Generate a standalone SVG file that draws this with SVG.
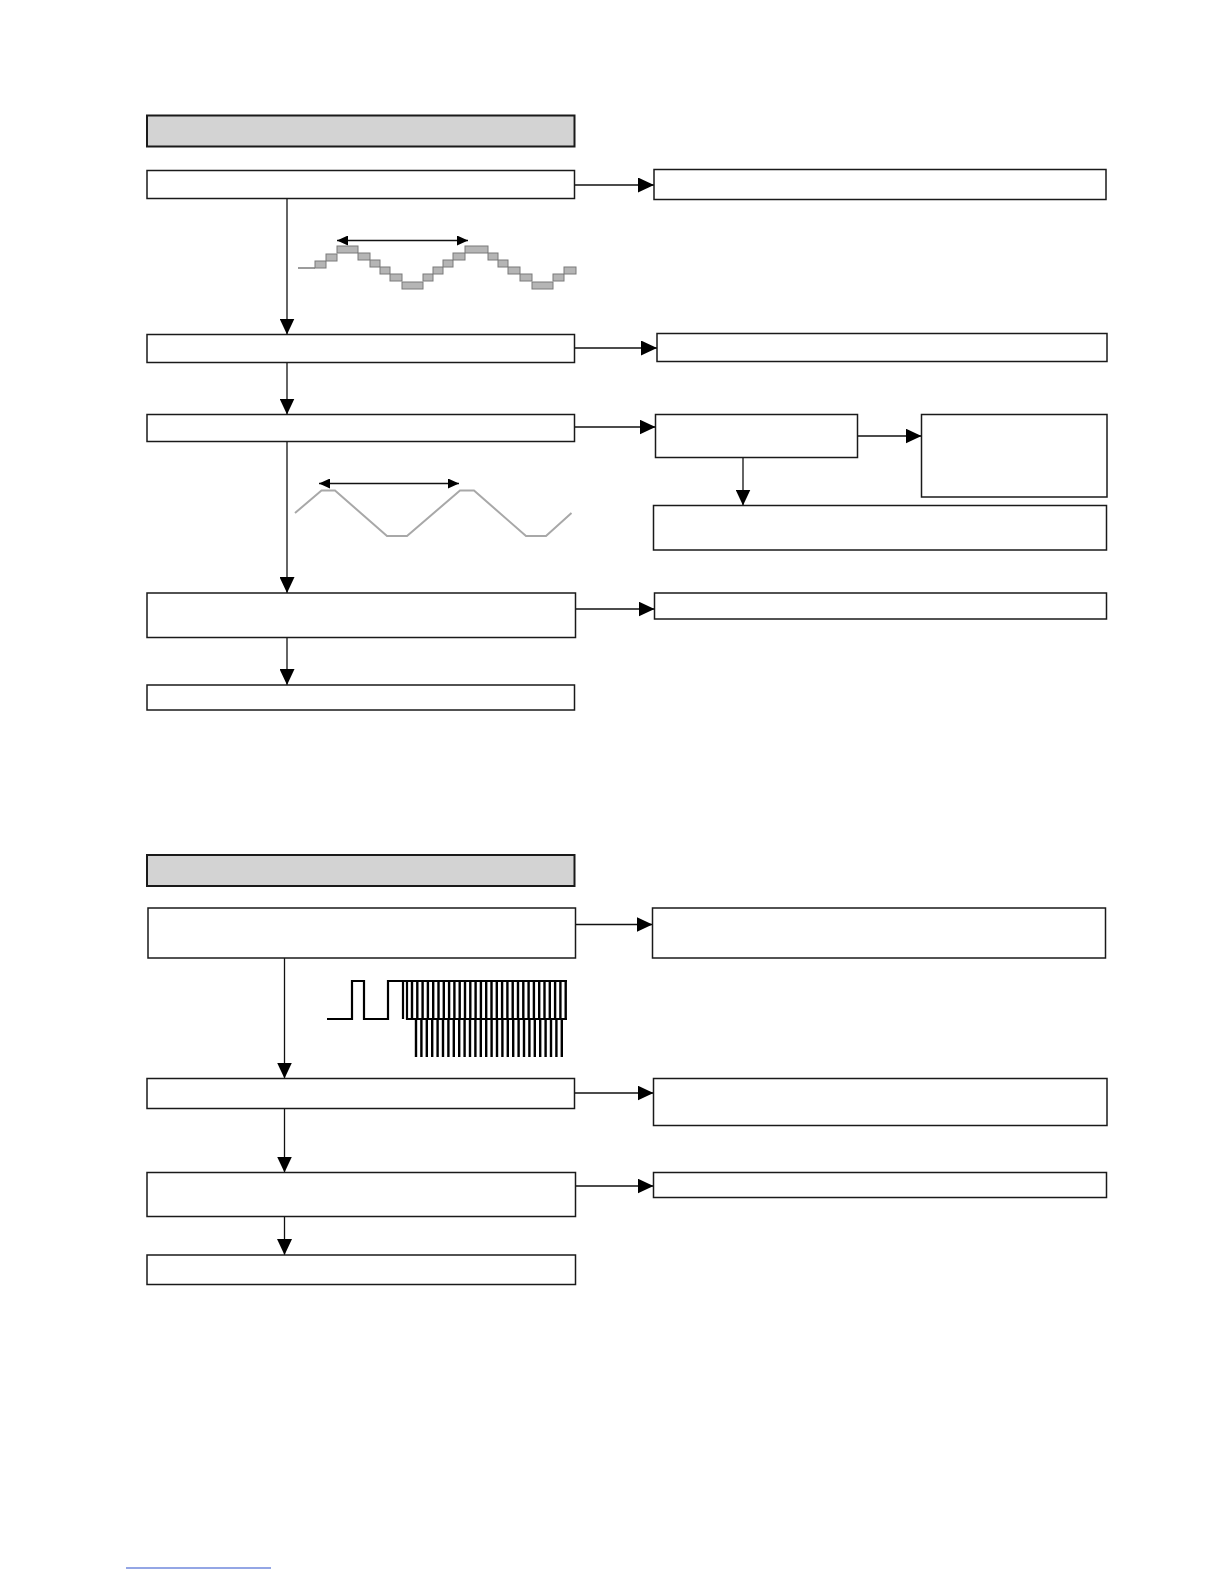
<svg xmlns="http://www.w3.org/2000/svg" width="1224" height="1584" viewBox="0 0 1224 1584">
<style>
.box{fill:#fff;stroke:#1a1a1a;stroke-width:1.5}
.hdr{fill:#d3d3d3;stroke:#1a1a1a;stroke-width:2}
.con{fill:none;stroke:#111;stroke-width:1.3}
.dbl{fill:none;stroke:#111;stroke-width:1.6}
.step{fill:#b5b5b5;stroke:#7a7a7a;stroke-width:1}
.tri{fill:none;stroke:#a8a8a8;stroke-width:2}
.pulse{fill:none;stroke:#000;stroke-width:2.2}
.bars{fill:none;stroke:#000;stroke-width:2.4}
</style>
<defs>
<marker id="ah" markerUnits="userSpaceOnUse" markerWidth="16" markerHeight="15" refX="16" refY="7.5" orient="auto">
<path d="M0,0 L16,7.5 L0,15 z" fill="#000"/>
</marker>
<marker id="sh" markerUnits="userSpaceOnUse" markerWidth="11" markerHeight="10" refX="11" refY="5" orient="auto-start-reverse">
<path d="M0,0 L11,5 L0,10 z" fill="#000"/>
</marker>
</defs>
<rect width="1224" height="1584" fill="#fff"/>

<g id="connectors">
<path class="con" marker-end="url(#ah)" d="M287,198.5 V334.5"/>
<path class="con" marker-end="url(#ah)" d="M574.5,185 H654"/>
<path class="con" marker-end="url(#ah)" d="M574.5,348 H657"/>
<path class="con" marker-end="url(#ah)" d="M287,362.5 V414.5"/>
<path class="con" marker-end="url(#ah)" d="M574.5,427 H655.5"/>
<path class="con" marker-end="url(#ah)" d="M857.5,436 H921.5"/>
<path class="con" marker-end="url(#ah)" d="M743,457.5 V505.5"/>
<path class="con" marker-end="url(#ah)" d="M287,441.5 V593"/>
<path class="con" marker-end="url(#ah)" d="M575.5,609 H654.5"/>
<path class="con" marker-end="url(#ah)" d="M287,637.5 V685"/>
<path class="con" marker-end="url(#ah)" d="M284.5,958 V1078.5"/>
<path class="con" marker-end="url(#ah)" d="M575.5,924.5 H652.5"/>
<path class="con" marker-end="url(#ah)" d="M574.5,1093 H653.5"/>
<path class="con" marker-end="url(#ah)" d="M284.5,1108.5 V1172.5"/>
<path class="con" marker-end="url(#ah)" d="M575.5,1186 H653.5"/>
<path class="con" marker-end="url(#ah)" d="M284.5,1216.5 V1255"/>
</g>

<g id="header1"><rect class="hdr" x="147" y="115.5" width="427.5" height="31"/></g>
<g id="A1"><rect class="box" x="147" y="170.5" width="427.5" height="28"/></g>
<g id="R1"><rect class="box" x="654" y="169.5" width="452" height="30"/></g>
<g id="A2"><rect class="box" x="147" y="334.5" width="427.5" height="28"/></g>
<g id="R2"><rect class="box" x="657" y="333.5" width="450" height="28"/></g>
<g id="A3"><rect class="box" x="147" y="414.5" width="427.5" height="27"/></g>
<g id="B"><rect class="box" x="655.5" y="414.5" width="202" height="43"/></g>
<g id="C"><rect class="box" x="921.5" y="414.5" width="185.5" height="82.5"/></g>
<g id="D"><rect class="box" x="653.5" y="505.5" width="453" height="44.5"/></g>
<g id="A4"><rect class="box" x="147" y="593" width="428.5" height="44.5"/></g>
<g id="E"><rect class="box" x="654.5" y="593" width="452" height="26"/></g>
<g id="A5"><rect class="box" x="147" y="685" width="427.5" height="25"/></g>

<g id="header2"><rect class="hdr" x="147" y="855" width="427.5" height="31"/></g>
<g id="F1"><rect class="box" x="148" y="908" width="427.5" height="50"/></g>
<g id="G1"><rect class="box" x="652.5" y="908" width="453" height="50"/></g>
<g id="F2"><rect class="box" x="147" y="1078.5" width="427.5" height="30"/></g>
<g id="G2"><rect class="box" x="653.5" y="1078.5" width="453.5" height="47"/></g>
<g id="F3"><rect class="box" x="147" y="1172.5" width="428.5" height="44"/></g>
<g id="G3"><rect class="box" x="653.5" y="1172.5" width="453" height="25"/></g>
<g id="F4"><rect class="box" x="147" y="1255" width="428.5" height="29.5"/></g>

<g id="wave-stepped">
<path class="dbl" marker-start="url(#sh)" marker-end="url(#sh)" d="M337,240.5 H468"/>
<path d="M298,268 H315" stroke="#666" stroke-width="1.3" fill="none"/>
<rect class="step" x="315" y="261" width="11" height="7"/>
<rect class="step" x="326" y="254" width="11" height="7"/>
<rect class="step" x="337" y="246" width="21" height="7"/>
<rect class="step" x="358" y="253" width="12" height="7"/>
<rect class="step" x="370" y="260" width="10" height="7"/>
<rect class="step" x="380" y="267" width="10" height="7"/>
<rect class="step" x="390" y="274" width="12" height="7"/>
<rect class="step" x="402" y="282" width="21" height="7"/>
<rect class="step" x="423" y="274" width="10" height="7"/>
<rect class="step" x="433" y="267" width="10" height="7"/>
<rect class="step" x="443" y="260" width="10" height="7"/>
<rect class="step" x="453" y="253" width="12" height="7"/>
<rect class="step" x="465" y="246" width="23" height="7"/>
<rect class="step" x="488" y="253" width="10" height="7"/>
<rect class="step" x="498" y="260" width="10" height="7"/>
<rect class="step" x="508" y="267" width="12" height="7"/>
<rect class="step" x="520" y="274" width="12" height="7"/>
<rect class="step" x="532" y="282" width="21" height="7"/>
<rect class="step" x="553" y="274" width="11" height="7"/>
<rect class="step" x="564" y="267" width="12" height="7"/>
</g>

<g id="wave-triangle">
<path class="dbl" marker-start="url(#sh)" marker-end="url(#sh)" d="M319,483.5 H459"/>
<path class="tri" d="M295,513 L321.5,490.5 H335 L387,536 H407 L460,490.5 H474 L526,536 H546 L571.5,513"/>
</g>

<g id="wave-pulse">
<path class="pulse" d="M327,1019 H352 V981 H364 V1019 H388 V981 H567 M403,981 V1019 M407,981 V1019 H567"/>
<path class="bars" d="M412,981 V1019 M417.3,981 V1019 M422.6,981 V1019 M427.9,981 V1019 M433.2,981 V1019 M438.5,981 V1019 M443.8,981 V1019 M449.1,981 V1019 M454.4,981 V1019 M459.7,981 V1019 M465,981 V1019 M470.3,981 V1019 M475.6,981 V1019 M480.9,981 V1019 M486.2,981 V1019 M491.5,981 V1019 M496.8,981 V1019 M502.1,981 V1019 M507.4,981 V1019 M512.7,981 V1019 M518,981 V1019 M523.3,981 V1019 M528.6,981 V1019 M533.9,981 V1019 M539.2,981 V1019 M544.5,981 V1019 M549.8,981 V1019 M555.1,981 V1019 M560.4,981 V1019 M565.7,981 V1019"/>
<path class="bars" d="M416,1019 V1057 M421.4,1019 V1057 M426.8,1019 V1057 M432.2,1019 V1057 M437.6,1019 V1057 M443,1019 V1057 M448.4,1019 V1057 M453.8,1019 V1057 M459.2,1019 V1057 M464.6,1019 V1057 M470,1019 V1057 M475.4,1019 V1057 M480.8,1019 V1057 M486.2,1019 V1057 M491.6,1019 V1057 M497,1019 V1057 M502.4,1019 V1057 M507.8,1019 V1057 M513.2,1019 V1057 M518.6,1019 V1057 M524,1019 V1057 M529.4,1019 V1057 M534.8,1019 V1057 M540.2,1019 V1057 M545.6,1019 V1057 M551,1019 V1057 M556.4,1019 V1057 M561.8,1019 V1057"/>
</g>

<path d="M126,1568 H271" stroke="#2a4fcc" stroke-width="1.2"/>
</svg>
